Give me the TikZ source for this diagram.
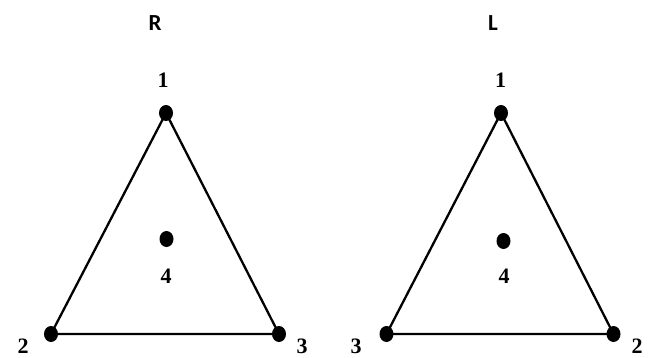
\documentclass[tikz,border=0pt]{standalone}
\usepackage{fontspec}
\setmainfont{Liberation Serif}
\newfontfamily\sidefont{Carlito}
\usepackage{tikz}
\usetikzlibrary{shapes.geometric, positioning}

\begin{document}
\begin{tikzpicture}[
    x=1pt, y=-1pt,
    vertex/.style={ellipse, fill=black, minimum width=14pt, minimum height=16pt, inner sep=0pt},
    num/.style={font=\fontsize{22}{22}\selectfont\bfseries, inner sep=0pt},
    side/.style={font=\sidefont\fontsize{23}{23}\selectfont\bfseries, inner sep=0pt},
    edge/.style={line width=2.3pt}
]
\useasboundingbox (0,0) rectangle (651,357);
% right-handed triangle
\node[side] (rtitle) at (155,23) {R};
\node[vertex] (r1) at (166,113) {};
\node[vertex] (r2) at (51,334) {};
\node[vertex] (r3) at (279,334) {};
\node[vertex] (r4) at (166.5,239) {};
\node[num] (r1lab) at (163,80) {1};
\node[num] (r2lab) at (23,346) {2};
\node[num] (r3lab) at (302,346) {3};
\node[num] (r4lab) at (166,276) {4};
\draw[edge] (r1.center) -- (r2.center) -- (r3.center) -- cycle;
% left-handed triangle
\node[side] (ltitle) at (493,23) {L};
\node[vertex] (l1) at (501,113) {};
\node[vertex] (l3) at (386.5,334) {};
\node[vertex] (l2) at (613.5,334) {};
\node[vertex] (l4) at (503.5,241) {};
\node[num] (l1lab) at (500.5,80) {1};
\node[num] (l3lab) at (356,346) {3};
\node[num] (l2lab) at (637,346) {2};
\node[num] (l4lab) at (504,276) {4};
\draw[edge] (l1.center) -- (l3.center) -- (l2.center) -- cycle;
\end{tikzpicture}
\end{document}
